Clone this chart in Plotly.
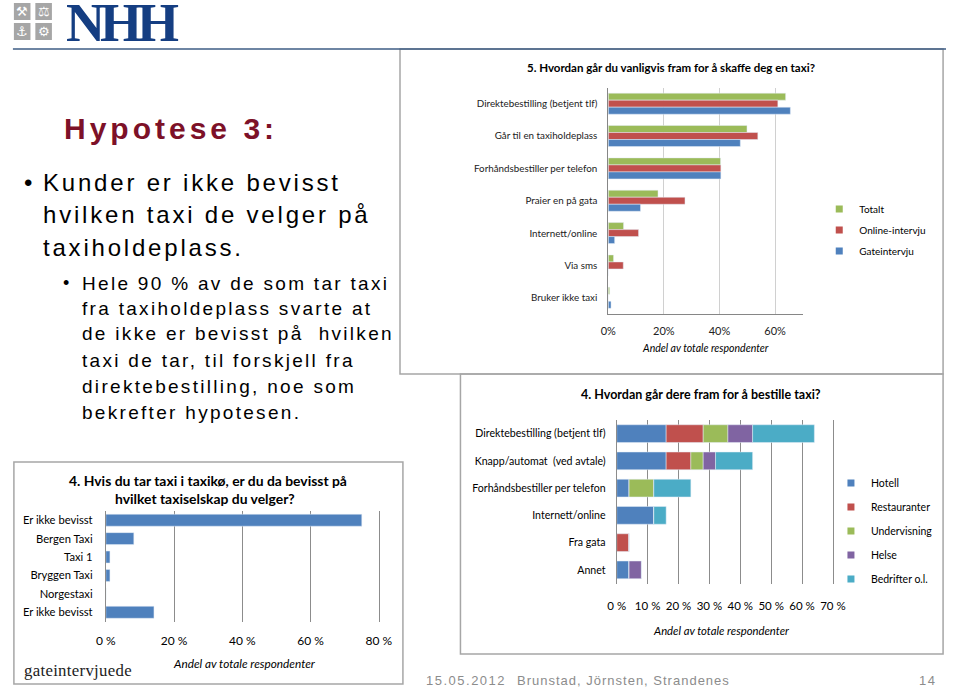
import plotly.graph_objects as go

W, H = 960, 687
def X(px): return px / W
def Y(py): return 1 - py / H

CAL = "Lato, Carlito, Calibri, sans-serif"
ARIAL = "Liberation Sans, Arial, sans-serif"
SERIF = "Liberation Serif, Times New Roman, serif"

BLUE, RED, GREEN, PURPLE, CYAN = "#4F81BD", "#C0504D", "#9BBB59", "#8064A2", "#4BACC6"

# ---------- Chart 1: 5. Hvordan går du vanligvis fram ...
q5_categories = ["Direktebestilling (betjent tlf)", "Går til en taxiholdeplass",
                 "Forhåndsbestiller per telefon", "Praier en på gata",
                 "Internett/online", "Via sms", "Bruker ikke taxi"]
q5_totalt = [63.8, 49.9, 40.4, 17.9, 5.5, 1.9, 0.5]
q5_online = [61.0, 53.8, 40.5, 27.6, 10.9, 5.4, 0.0]
q5_gate = [65.5, 47.5, 40.5, 11.6, 2.3, 0.0, 1.0]
q5_ticks = [0, 20, 40, 60]
q5_ticklabels = ["0%", "20%", "40%", "60%"]

# ---------- Chart 2: 4. Hvordan går dere fram for å bestille taxi?
q4_categories = ["Direktebestilling (betjent tlf)", "Knapp/automat  (ved avtale)",
                 "Forhåndsbestiller per telefon", "Internett/online", "Fra gata", "Annet"]
q4_hotell = [16, 16, 4, 12, 0, 4]
q4_restauranter = [12, 8, 0, 0, 4, 0]
q4_undervisning = [8, 4, 8, 0, 0, 0]
q4_helse = [8, 4, 0, 0, 0, 4]
q4_bedrifter = [20, 12, 12, 4, 0, 0]
q4_ticks = [0, 10, 20, 30, 40, 50, 60, 70]
q4_ticklabels = ["0 %", "10 %", "20 %", "30 %", "40 %", "50 %", "60 %", "70 %"]

# ---------- Chart 3: 4. Hvis du tar taxi i taxikø ...
ko_labels = ["Er ikke bevisst", "Bergen Taxi", "Taxi 1", "Bryggen Taxi", "Norgestaxi", "Er ikke bevisst"]
ko_values = [75.0, 8.2, 1.2, 1.2, 0.0, 14.1]
ko_ticks = [0, 20, 40, 60, 80]
ko_ticklabels = ["0 %", "20 %", "40 %", "60 %", "80 %"]

fig = go.Figure()

# chart 1 traces (grouped)
for name, vals, col in [("Totalt", q5_totalt, GREEN), ("Online-intervju", q5_online, RED),
                        ("Gateintervju", q5_gate, BLUE)]:
    fig.add_trace(go.Bar(y=q5_categories, x=vals, orientation="h", marker_color=col,
                         name=name, legendgroup="a" + name, showlegend=False,
                         xaxis="x", yaxis="y"))
    fig.add_trace(go.Scatter(x=[None], y=[None], mode="markers", name=name,
                             legendgroup="a" + name, legend="legend",
                             marker=dict(symbol="square", size=7, color=col),
                             xaxis="x", yaxis="y"))

# chart 2 traces (stacked via base)
base = [0] * len(q4_categories)
for name, vals, col in [("Hotell", q4_hotell, BLUE), ("Restauranter", q4_restauranter, RED),
                        ("Undervisning", q4_undervisning, GREEN), ("Helse", q4_helse, PURPLE),
                        ("Bedrifter o.l.", q4_bedrifter, CYAN)]:
    fig.add_trace(go.Bar(y=q4_categories, x=vals, base=list(base), orientation="h",
                         marker_color=col, name=name, offsetgroup="stack",
                         legendgroup="b" + name, showlegend=False,
                         xaxis="x2", yaxis="y2"))
    fig.add_trace(go.Scatter(x=[None], y=[None], mode="markers", name=name,
                             legendgroup="b" + name, legend="legend2",
                             marker=dict(symbol="square", size=7, color=col),
                             xaxis="x2", yaxis="y2"))
    base = [b + v for b, v in zip(base, vals)]

# chart 3 trace
fig.add_trace(go.Bar(y=list(range(len(ko_labels))), x=ko_values, orientation="h",
                     marker_color=BLUE, showlegend=False, xaxis="x3", yaxis="y3"))

GRID_DARK = "#8C8C8C"
AX = "#868686"

fig.update_layout(
    width=W, height=H, margin=dict(l=0, r=0, t=0, b=0), autosize=False,
    paper_bgcolor="white", plot_bgcolor="rgba(0,0,0,0)",
    barmode="group", bargap=0.35, bargroupgap=0,
    font=dict(family=CAL, color="#000000"),
    xaxis=dict(domain=[X(613.6), X(813.2)], anchor="y", range=[0, 70],
               tickvals=q5_ticks, ticktext=q5_ticklabels, showgrid=True, tickangle=0,
               gridcolor="#D0D0D0", showline=True, linecolor=AX, zeroline=False,
               ticks="", tickfont=dict(size=11, family=CAL, color="#222"), ticklabelstandoff=7,
               fixedrange=True),
    yaxis=dict(domain=[Y(314), Y(87.5)], anchor="x", autorange="reversed",
               showline=True, linecolor=AX, ticks="", showgrid=False,
               tickfont=dict(size=9.8, family=CAL, color="#222"), ticklabelstandoff=8,
               fixedrange=True),
    xaxis2=dict(domain=[X(622.3), X(844)], anchor="y2", range=[0, 70],
                tickvals=q4_ticks, ticktext=q4_ticklabels, showgrid=True, tickangle=0,
                gridcolor=GRID_DARK, showline=False, zeroline=False, ticks="",
                tickfont=dict(size=11.5, family=CAL), ticklabelstandoff=14,
                fixedrange=True),
    yaxis2=dict(domain=[Y(583.5), Y(420)], anchor="x2", autorange="reversed",
                showline=True, mirror=True, linecolor=GRID_DARK, ticks="", showgrid=False,
                tickfont=dict(size=10.6, family=CAL), ticklabelstandoff=8,
                fixedrange=True),
    xaxis3=dict(domain=[X(98.3), X(378.3)], anchor="y3", range=[0, 80],
                tickvals=ko_ticks, ticktext=ko_ticklabels, showgrid=True, tickangle=0,
                gridcolor=GRID_DARK, showline=False, zeroline=False, ticks="",
                tickfont=dict(size=12, family=CAL), ticklabelstandoff=10,
                fixedrange=True),
    yaxis3=dict(domain=[Y(621.5), Y(511)], anchor="x3", range=[5.5, -0.5],
                tickvals=list(range(len(ko_labels))), ticktext=ko_labels,
                showline=True, mirror=True, linecolor=GRID_DARK, ticks="", showgrid=False,
                zeroline=False, tickfont=dict(size=11.2, family=CAL),
                ticklabelstandoff=10, fixedrange=True),
    legend=dict(x=X(830), y=Y(230), xanchor="left", yanchor="middle",
                traceorder="grouped", tracegroupgap=2, itemwidth=30,
                font=dict(size=10, family=CAL), bgcolor="rgba(0,0,0,0)"),
    legend2=dict(x=X(842), y=Y(531), xanchor="left", yanchor="middle",
                 traceorder="grouped", tracegroupgap=5, itemwidth=30,
                 font=dict(size=10.5, family=CAL), bgcolor="rgba(0,0,0,0)"),
)

shapes = []
# logo squares
for (x0, y0) in [(4, 3), (26, 3), (4, 23), (26, 23)]:
    shapes.append(dict(type="rect", xref="paper", yref="paper", x0=X(x0), x1=X(x0 + 17),
                       y0=Y(y0 + 17), y1=Y(y0), fillcolor="#A6A6A6", line=dict(width=0)))
# boxes
box_line = dict(color="#A6A6A6", width=1.5)
shapes.append(dict(type="rect", xref="paper", yref="paper", x0=X(400), x1=X(957),
                   y0=Y(374), y1=Y(49), line=box_line, layer="below"))
shapes.append(dict(type="rect", xref="paper", yref="paper", x0=X(462), x1=X(957),
                   y0=Y(654), y1=Y(374), line=box_line, layer="below"))
shapes.append(dict(type="rect", xref="paper", yref="paper", x0=X(4), x1=X(403),
                   y0=Y(684), y1=Y(462), line=box_line, layer="below"))
# header rule
shapes.append(dict(type="line", xref="paper", yref="paper", x0=X(3), x1=1,
                   y0=Y(49), y1=Y(49), line=dict(color="#3E5C84", width=1.5)))
fig.update_layout(shapes=shapes)

ann = []
def text(t, x, y, size, family=ARIAL, color="#000000", xanchor="left", spacing=None):
    if spacing is not None:
        t = '<span style="letter-spacing:%spx">%s</span>' % (spacing, t)
    ann.append(dict(text=t, x=X(x), y=Y(y), xref="paper", yref="paper", showarrow=False,
                    xanchor=xanchor, yanchor="middle",
                    font=dict(size=size, family=family, color=color)))

# logo
for g, cx, cy in [("⚒", 12.5, 11.5), ("⚖", 34.5, 11.5), ("⚓", 12.5, 31.5), ("⚙", 34.5, 31.5)]:
    text(g, cx, cy, 13, family="DejaVu Sans", color="white", xanchor="center")
text("<b>NHH</b>", 55, 23.5, 54, family=SERIF, color="#153E82", spacing=-5)

# left text
text("<b>Hypotese 3:</b>", 53, 128, 30, color="#7D1128", spacing=4)
text("•", 12, 182, 24)
for line, y in [("Kunder er ikke bevisst", 182), ("hvilken taxi de velger på", 214),
                ("taxiholdeplass.", 247)]:
    text(line, 32, y, 24, spacing=2.8)
text("•", 52, 283, 18)
for line, y in [("Hele 90 % av de som tar taxi", 283), ("fra taxiholdeplass svarte at", 308),
                ("de ikke er bevisst på  hvilken", 334), ("taxi de tar, til forskjell fra", 360),
                ("direktebestilling, noe som", 386), ("bekrefter hypotesen.", 412)]:
    text(line, 72, y, 19, spacing=2.3)

# chart titles and axis titles
text("<b>5. Hvordan går du vanligvis fram for å skaffe deg en taxi?</b>", 678, 68, 11.5,
     family=CAL, xanchor="center")
text("<i>Andel av totale respondenter</i>", 713, 348, 10.5, family=CAL, xanchor="center")
text("<b>4. Hvordan går dere fram for å bestille taxi?</b>", 709, 394, 12.5,
     family=CAL, xanchor="center")
text("<i>Andel av totale respondenter</i>", 730, 630, 11.3, family=CAL, xanchor="center")
text("<b>4. Hvis du tar taxi i taxikø, er du da bevisst på</b>", 203, 480, 13.9,
     family=CAL, xanchor="center")
text("<b>hvilket taxiselskap du velger?</b>", 200, 498, 13.9, family=CAL, xanchor="center")
text("<i>Andel av totale respondenter</i>", 240, 663, 11.8, family=CAL, xanchor="center")
text("gateintervjuede", 12, 670, 16.8, family=SERIF, color="#222222", spacing=0.3)

# footer
text("15.05.2012", 425, 680, 13, color="#8C8C8C", spacing=1.5)
text("Brunstad, Jörnsten, Strandenes", 518, 680, 13, color="#8C8C8C", spacing=1.0)
text("14", 930, 680, 13, color="#8C8C8C", spacing=1.5)

fig.update_layout(annotations=ann)
fig.write_html("out.html", config={"displayModeBar": False},
               post_script="document.body.style.margin='0px';document.body.style.overflow='hidden';")
